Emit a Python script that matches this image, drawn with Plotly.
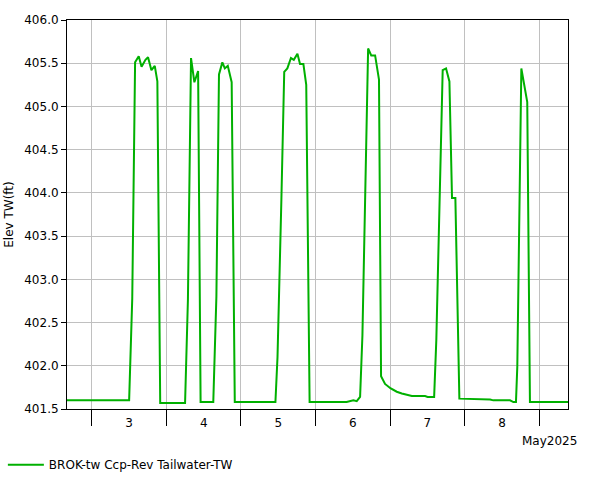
import plotly.graph_objects as go

# Time stamps (breakpoints) and tailwater elevation (ft)
times = [
    "2025-05-02 16:00", "2025-05-03 12:00", "2025-05-03 13:00", "2025-05-03 13:55",
    "2025-05-03 15:05", "2025-05-03 16:00", "2025-05-03 17:15", "2025-05-03 18:05",
    "2025-05-03 19:10", "2025-05-03 20:15", "2025-05-03 21:05", "2025-05-03 22:00",
    "2025-05-04 06:00", "2025-05-04 06:55", "2025-05-04 07:55", "2025-05-04 09:00",
    "2025-05-04 10:12", "2025-05-04 11:00", "2025-05-04 15:05", "2025-05-04 16:05",
    "2025-05-04 16:55", "2025-05-04 18:00", "2025-05-04 18:48", "2025-05-04 19:45",
    "2025-05-04 21:00", "2025-05-04 22:00", "2025-05-05 11:05", "2025-05-05 11:45",
    "2025-05-05 13:00", "2025-05-05 13:55", "2025-05-05 14:55", "2025-05-05 16:05",
    "2025-05-05 17:00", "2025-05-05 18:10", "2025-05-05 19:00", "2025-05-05 20:05",
    "2025-05-05 21:00", "2025-05-05 22:05", "2025-05-06 10:00", "2025-05-06 12:10",
    "2025-05-06 13:15", "2025-05-06 14:20", "2025-05-06 15:05", "2025-05-06 16:00",
    "2025-05-06 16:55", "2025-05-06 17:55", "2025-05-06 19:10", "2025-05-06 20:25",
    "2025-05-06 21:05", "2025-05-06 22:22", "2025-05-07 00:05", "2025-05-07 02:08",
    "2025-05-07 03:45", "2025-05-07 07:00", "2025-05-07 11:15", "2025-05-07 12:05",
    "2025-05-07 14:10", "2025-05-07 14:52", "2025-05-07 16:17", "2025-05-07 16:55",
    "2025-05-07 18:00", "2025-05-07 19:05", "2025-05-07 19:55", "2025-05-07 21:00",
    "2025-05-07 22:17", "2025-05-08 08:10", "2025-05-08 09:13", "2025-05-08 14:35",
    "2025-05-08 15:40", "2025-05-08 16:30", "2025-05-08 16:56", "2025-05-08 17:48",
    "2025-05-08 18:14", "2025-05-08 20:08", "2025-05-08 21:00", "2025-05-09 09:15",
]
elev_tw = [
    401.60, 401.60, 402.78, 405.51,
    405.58, 405.46, 405.54, 405.57,
    405.42, 405.47, 405.29, 401.57,
    401.57, 402.76, 405.56, 405.28,
    405.41, 401.58, 401.58, 402.80,
    405.37, 405.51, 405.44, 405.47,
    405.28, 401.58, 401.58, 402.10,
    403.92, 405.40, 405.44, 405.56,
    405.54, 405.61, 405.49, 405.49,
    405.25, 401.58, 401.58, 401.60,
    401.59, 401.64, 402.35, 404.00,
    405.67, 405.59, 405.59, 405.31,
    401.88, 401.79, 401.74, 401.70,
    401.68, 401.65, 401.65, 401.64,
    401.64, 402.30, 404.50, 405.42,
    405.44, 405.29, 403.94, 403.94,
    401.62, 401.61, 401.60, 401.60,
    401.58, 401.58, 401.99, 404.50,
    405.44, 405.05, 401.58, 401.58,
]
series_name = "BROK-tw Ccp-Rev Tailwater-TW"
y_title = "Elev TW(ft)"
x_range = ["2025-05-02 16:00", "2025-05-09 09:15"]
y_range = [401.5, 406.0]

FONT = "DejaVu Sans"

fig = go.Figure()
fig.add_trace(go.Scatter(
    x=times, y=elev_tw, mode="lines", name=series_name,
    line=dict(color="#00b000", width=2),
))

fig.update_layout(
    width=601, height=480,
    margin=dict(l=67, r=33, t=20, b=71, autoexpand=False),
    paper_bgcolor="white", plot_bgcolor="white",
    font=dict(family=FONT, size=12, color="black"),
    showlegend=True,
    legend=dict(
        orientation="h", x=-0.128, xanchor="left", y=-0.143, yanchor="middle",
        font=dict(family=FONT, size=12, color="black"),
        bgcolor="rgba(0,0,0,0)", itemwidth=36,
    ),
    annotations=[dict(
        text="May2025", xref="paper", yref="paper", x=1.022, y=-0.0815,
        xanchor="right", yanchor="middle", showarrow=False,
        font=dict(family=FONT, size=12, color="black"),
    )],
)

fig.update_xaxes(
    type="date", range=x_range, automargin=False,
    dtick=86400000, tick0="2025-05-03",
    tickformat="%-d", ticklabelmode="period",
    ticks="outside", ticklen=16, tickcolor="black", tickwidth=1,
    ticklabelstandoff=-13,
    showgrid=True, gridcolor="#c0c0c0", gridwidth=1,
    showline=True, linecolor="black", linewidth=1, mirror=True,
    zeroline=False,
)
fig.update_yaxes(
    range=y_range, dtick=0.5, tick0=401.5, tickformat=".1f", automargin=False,
    ticks="outside", ticklen=5, tickcolor="black",
    showgrid=True, gridcolor="#c0c0c0", gridwidth=1,
    showline=True, linecolor="black", linewidth=1, mirror=True,
    zeroline=False,
    title=dict(text=y_title, standoff=8, font=dict(family=FONT, size=12)),
)

fig.write_html(
    "out.html",
    config={"displayModeBar": False},
    post_script="document.body.style.margin='0';",
)
